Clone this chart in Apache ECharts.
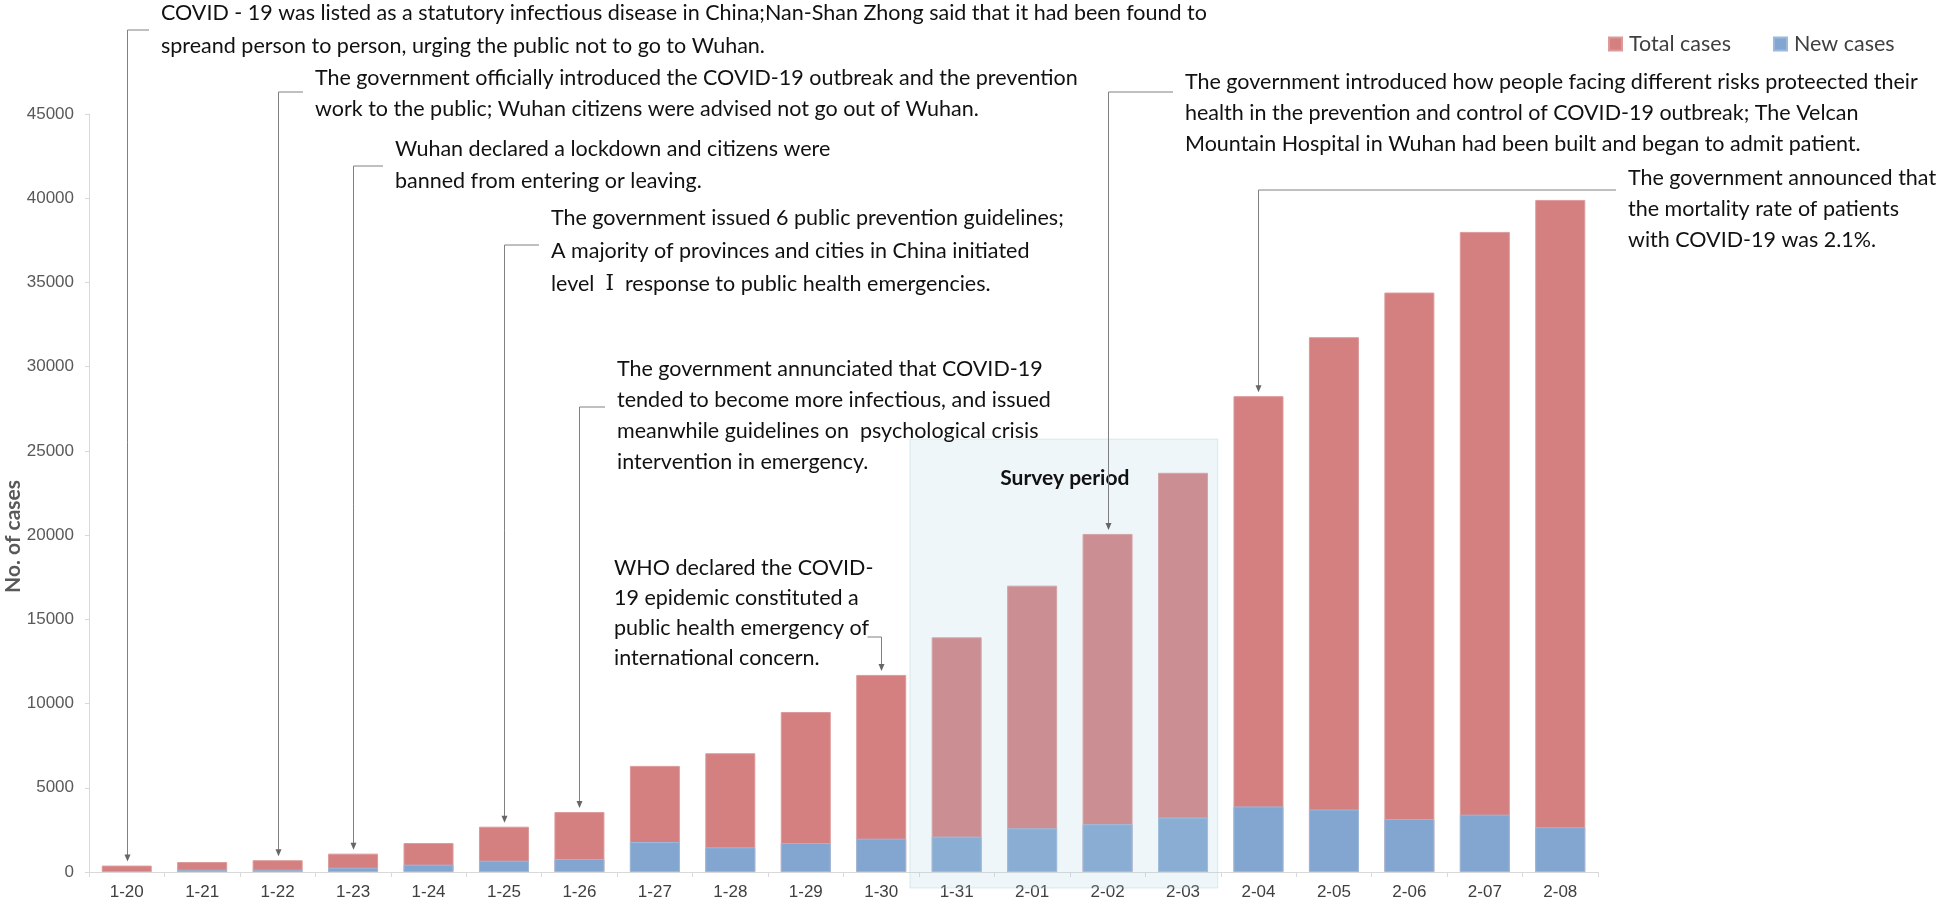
<!DOCTYPE html>
<html>
<head>
<meta charset="utf-8">
<script src="https://cdn.jsdelivr.net/npm/echarts@6/dist/echarts.min.js"></script>
<style>
html,body{margin:0;padding:0;background:#fff;}
#chart{width:1946px;height:901px;}
</style>
</head>
<body>
<div id="chart"></div>
<script>
// ---- data ----
const categories = ['1-20','1-21','1-22','1-23','1-24','1-25','1-26','1-27','1-28','1-29','1-30','1-31','2-01','2-02','2-03','2-04','2-05','2-06','2-07','2-08'];
const totalCases = [380,590,700,1090,1720,2690,3560,6300,7050,9500,11700,13930,17000,20070,23700,28250,31750,34400,38000,39900];
const newCases = [60,140,140,255,435,670,772,1781,1466,1722,1977,2096,2594,2840,3235,3890,3710,3147,3402,2654];
const yTicks = [0,5000,10000,15000,20000,25000,30000,35000,40000,45000];
const surveyStart = '1-31';
const surveyEnd = '2-03';
const surveyLabel = 'Survey period';
const annCategories = ['1-20','1-22','1-23','1-25','1-26','1-30','2-02','2-04'];
const annTexts = [
  'COVID - 19 was listed as a statutory infectious disease in China;Nan-Shan Zhong said that it had been found to\nspreand person to person, urging the public not to go to Wuhan.',
  'The government officially introduced the COVID-19 outbreak and the prevention\nwork to the public; Wuhan citizens were advised not go out of Wuhan.',
  'Wuhan declared a lockdown and citizens were\nbanned from entering or leaving.',
  'The government issued 6 public prevention guidelines;\nA majority of provinces and cities in China initiated\nlevel  {r|\u2160}  response to public health emergencies.',
  'The government annunciated that COVID-19\ntended to become more infectious, and issued\nmeanwhile guidelines on  psychological crisis\nintervention in emergency.',
  'WHO declared the COVID-\n19 epidemic constituted a\npublic health emergency of\ninternational concern.',
  'The government introduced how people facing different risks proteected their\nhealth in the prevention and control of COVID-19 outbreak; The Velcan\nMountain Hospital in Wuhan had been built and began to admit patient.',
  'The government announced that\nthe mortality rate of patients\nwith COVID-19 was 2.1%.'
];

// ---- layout (pixels) ----
const annLayout = [
  {tx:161, ty:30, sy:30, lh:33, side:'left'},
  {tx:315, ty:94, sy:92, lh:31, side:'left'},
  {tx:395, ty:165, sy:166, lh:32, side:'left'},
  {tx:551, ty:251, sy:245, lh:33, side:'left'},
  {tx:617, ty:416, sy:407, lh:31, side:'left'},
  {tx:614, ty:613, sy:637, lh:30, side:'left2'},
  {tx:1185, ty:113, sy:92, lh:31, side:'left'},
  {tx:1628, ty:209, sy:190, lh:31, side:'left'}
];
const FONT = 'Lato, "Open Sans", sans-serif';
const FS = 21.5;
const LINE_COLOR = '#808080';

const chart = echarts.init(document.getElementById('chart'), null, {renderer:'canvas'});

const annData = annCategories.map((c, i) => {
  const ci = categories.indexOf(c);
  return [ci, totalCases[ci], i];
});

function renderAnn(params, api) {
  const i = api.value(2);
  const top = api.coord([api.value(0), api.value(1)]);
  const cx = Math.round(top[0]) + 0.5;
  const tipY = top[1] - 4;
  const L = annLayout[i];
  const children = [];
  let pts;
  if (L.side === 'left') {
    pts = [[L.tx - 12, L.sy], [cx, L.sy], [cx, tipY - 6]];
  } else {
    pts = [[cx - 14, L.sy], [cx, L.sy], [cx, tipY - 6]];
  }
  children.push({type:'polyline', shape:{points:pts}, style:{stroke:LINE_COLOR, lineWidth:1, fill:null}});
  children.push({type:'polygon', shape:{points:[[cx-3, tipY-7],[cx+3, tipY-7],[cx, tipY]]}, style:{fill:'#666'}});
  children.push({type:'text', style:{
    text:annTexts[i], x:L.tx, y:L.ty, fill:'#111', fontSize:FS, fontFamily:FONT,
    lineHeight:L.lh, align:'left', verticalAlign:'middle',
    rich:{r:{fontFamily:'"DejaVu Serif", "Liberation Serif", serif', fontSize:FS, lineHeight:L.lh, fill:'#111'}}
  }});
  return {type:'group', children};
}

function renderSurvey(params, api) {
  const a = categories.indexOf(surveyStart), b = categories.indexOf(surveyEnd);
  const band = api.size([1, 0])[0];
  const p0 = api.coord([a, 25700]);
  const p1 = api.coord([b, 0]);
  const x0 = p0[0] - band / 2 - 9;
  const x1 = p1[0] + band / 2 - 3;
  const y0 = p0[1];
  const y1 = p1[1] + 16;
  return {type:'group', children:[
    {type:'rect', shape:{x:x0, y:y0, width:x1 - x0, height:y1 - y0},
      style:{fill:'rgba(170,212,224,0.2)', stroke:'rgba(170,200,210,0.35)', lineWidth:1}},
    {type:'text', style:{text:surveyLabel, x:(x0 + x1) / 2 + 1, y:y0 + 39, fill:'#111', fontSize:21, fontWeight:'bold', fontFamily:FONT, align:'center', verticalAlign:'middle'}}
  ]};
}

const option = {
  animation: false,
  backgroundColor: '#fff',
  grid: {left: 89, right: 348, top: 114, bottom: 29, containLabel: false},
  legend: {
    data: ['Total cases', 'New cases'],
    left: 1603, top: 28,
    icon: 'rect', itemWidth: 13, itemHeight: 13, itemGap: 42,
    textStyle: {fontFamily: FONT, fontSize: FS, color: '#404040', padding: [0, 0, 0, 2]}
  },
  xAxis: {
    type: 'category', data: categories,
    axisLine: {lineStyle: {color: '#d9d9d9'}},
    axisTick: {show: true, length: 5, lineStyle: {color: '#d9d9d9'}},
    axisLabel: {fontFamily: '"Liberation Sans", Arial, sans-serif', fontSize: 17, color: '#404040', margin: 12, interval: 0}
  },
  yAxis: {
    type: 'value', min: 0, max: 45000, interval: 5000,
    axisLine: {show: true, lineStyle: {color: '#d9d9d9'}},
    axisTick: {show: true, length: 4, lineStyle: {color: '#d9d9d9'}},
    splitLine: {show: false},
    axisLabel: {fontFamily: '"Liberation Sans", Arial, sans-serif', fontSize: 17, color: '#595959', margin: 15,
      formatter: v => yTicks.indexOf(v) >= 0 ? String(v) : ''}
  },
  graphic: [{
    type: 'text', left: 3, top: 480, rotation: Math.PI / 2,
    style: {text: 'No. of cases', fontSize: 21, fontWeight: 'bold', fontFamily: FONT, fill: '#595959'}
  }],
  series: [
    {name: 'Total cases', type: 'bar', data: totalCases, barWidth: 50, barGap: '-100%', z: 2,
      itemStyle: {color: '#d47f80', borderColor: '#dc9a9a', borderWidth: 1}},
    {name: 'New cases', type: 'bar', data: newCases, barWidth: 50, barGap: '-100%', z: 2,
      itemStyle: {color: '#82a6d0', borderColor: '#9bb9dc', borderWidth: 1}},
    {type: 'custom', data: [[0]], renderItem: renderSurvey, z: 3, clip: false, silent: true},
    {type: 'custom', data: annData, renderItem: renderAnn, z: 4, clip: false, silent: true,
      encode: {x: 0, y: 1}}
  ]
};
chart.setOption(option);
</script>
</body>
</html>
